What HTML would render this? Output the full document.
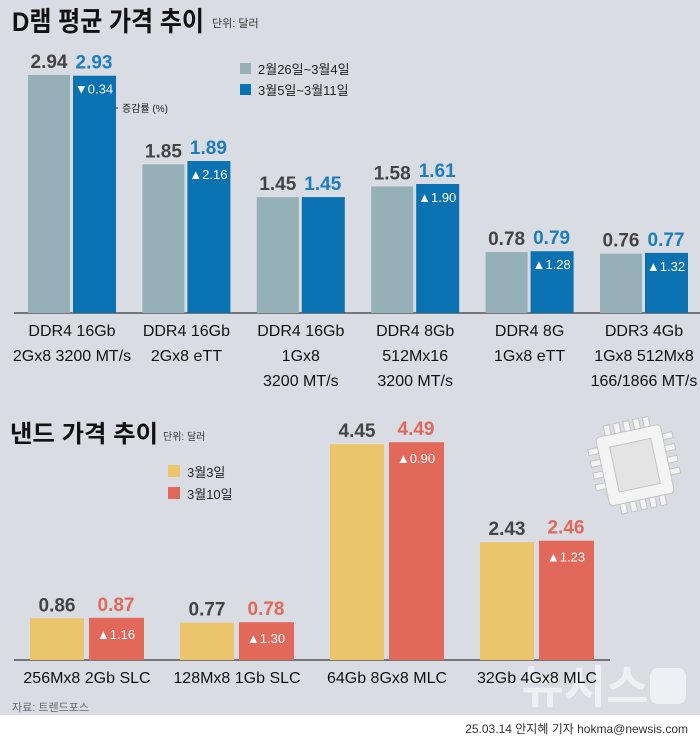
<!DOCTYPE html>
<html><head><meta charset="utf-8">
<style>
body{margin:0;width:700px;height:741px;background:#d9dce3;font-family:"Liberation Sans","Noto Sans CJK KR",sans-serif;overflow:hidden;position:relative}
svg{position:absolute;left:0;top:0}
</style></head>
<body>
<svg id="c" width="700" height="741" font-family="Liberation Sans, Noto Sans CJK KR, sans-serif">
<rect x="0" y="715" width="700" height="26" fill="#fff"/>
<text x="12" y="31" font-size="27" font-weight="bold" fill="#111" textLength="192" lengthAdjust="spacingAndGlyphs">D램 평균 가격 추이</text>
<text x="212" y="27" font-size="11" fill="#333">단위: 달러</text>
<rect x="240" y="63" width="11" height="11" fill="#95b0b6"/>
<text x="258" y="74" font-size="13" fill="#222">2월26일~3월4일</text>
<rect x="240" y="84" width="11" height="11" fill="#0a72b0"/>
<text x="258" y="95" font-size="13" fill="#222">3월5일~3월11일</text>
<path d="M100 100 V108 H118" stroke="#222" fill="none"/>
<text x="122" y="112" font-size="10" fill="#222">증감률 (%)</text>
<text x="10" y="442" font-size="24" font-weight="bold" fill="#111" textLength="148" lengthAdjust="spacingAndGlyphs">낸드 가격 추이</text>
<text x="163" y="440" font-size="10" fill="#333">단위: 달러</text>
<rect x="168" y="465" width="12" height="12" fill="#ecc46b"/>
<text x="187" y="477" font-size="13" fill="#222">3월3일</text>
<rect x="168" y="487" width="12" height="12" fill="#e2685a"/>
<text x="187" y="499" font-size="13" fill="#222">3월10일</text>
<g transform="rotate(-12 636 465)" fill="#f4f4f4" stroke="#c4c4c4">
<rect x="612" y="420" width="6" height="12"/><rect x="622" y="420" width="6" height="12"/><rect x="632" y="420" width="6" height="12"/><rect x="642" y="420" width="6" height="12"/><rect x="652" y="420" width="6" height="12"/>
<rect x="612" y="498" width="6" height="12"/><rect x="622" y="498" width="6" height="12"/><rect x="632" y="498" width="6" height="12"/><rect x="642" y="498" width="6" height="12"/><rect x="652" y="498" width="6" height="12"/>
<rect x="592" y="440" width="12" height="6"/><rect x="592" y="452" width="12" height="6"/><rect x="592" y="464" width="12" height="6"/><rect x="592" y="476" width="12" height="6"/>
<rect x="666" y="440" width="12" height="6"/><rect x="666" y="452" width="12" height="6"/><rect x="666" y="464" width="12" height="6"/><rect x="666" y="476" width="12" height="6"/>
<rect x="602" y="430" width="66" height="70" rx="4"/>
<rect x="614" y="442" width="42" height="46" fill="#e4e4e4"/>
</g>
<text x="12" y="711" font-size="11" fill="#666">자료: 트렌드포스</text>
<text x="585" y="703" font-size="46" font-weight="bold" fill="#eef0f3" text-anchor="middle">뉴시스</text>
<rect x="650" y="668" width="36" height="36" rx="8" fill="#eef0f3"/>
<text x="688" y="733" font-size="12" fill="#333" text-anchor="end">25.03.14 안지혜 기자 hokma@newsis.com</text>
</svg>
<script>
const dramCats=[["DDR4 16Gb","2Gx8 3200 MT/s"],["DDR4 16Gb","2Gx8 eTT"],["DDR4 16Gb","1Gx8","3200 MT/s"],["DDR4 8Gb","512Mx16","3200 MT/s"],["DDR4 8G","1Gx8 eTT"],["DDR3 4Gb","1Gx8 512Mx8","166/1866 MT/s"]];
const dramPrev=[2.94,1.85,1.45,1.58,0.78,0.76];
const dramCur=[2.93,1.89,1.45,1.61,0.79,0.77];
const dramChg=["▼0.34","▲2.16","","▲1.90","▲1.28","▲1.32"];
const nandCats=["256Mx8 2Gb SLC","128Mx8 1Gb SLC","64Gb 8Gx8 MLC","32Gb 4Gx8 MLC"];
const nandPrev=[0.86,0.77,4.45,2.43];
const nandCur=[0.87,0.78,4.49,2.46];
const nandChg=["▲1.16","▲1.30","▲0.90","▲1.23"];
const S=document.getElementById('c');const NS='http://www.w3.org/2000/svg';
function mk(t,a,txt){const e=document.createElementNS(NS,t);for(const k in a)e.setAttribute(k,a[k]);if(txt!==undefined)e.textContent=txt;S.appendChild(e);return e;}
// DRAM
const dB=313,dY=v=>dB-(v*82-3),dX=i=>28+114.4*i;
let ax=mk('line',{x1:14,x2:700,y1:dB,y2:dB,stroke:'#555','stroke-width':1.5});


dramPrev.forEach((v,i)=>{
 const x=dX(i);
 let r=mk('rect',{x:x,y:dY(v),width:42,height:dB-dY(v),fill:'#95b0b6'});
 
 
 let c=dramCur[i];
 let r2=mk('rect',{x:x+45,y:dY(c),width:43,height:dB-dY(c),fill:'#0a72b0'});
 
 
 let t=mk('text',{x:x+21,y:dY(v)-7,'font-size':19,'font-weight':'bold',fill:'#444','text-anchor':'middle'},v.toFixed(2));
 
 
 let t2=mk('text',{x:x+66,y:dY(c)-7,'font-size':19,'font-weight':'bold',fill:'#1a7ec0','text-anchor':'middle'},c.toFixed(2));
 
 
 if(dramChg[i]){let t3=mk('text',{x:x+66,y:dY(c)+18,'font-size':13,fill:'#fff','text-anchor':'middle'},dramChg[i]);
 
 }
 dramCats[i].forEach((l,j)=>{let tl=mk('text',{x:x+44,y:336+j*25,'font-size':16,fill:'#111','text-anchor':'middle'},l);
 
 });
});
// NAND
const nB=660,nY=v=>nB-v*48.5,nX=i=>30+150*i;
let ax2=mk('line',{x1:14,x2:610,y1:nB,y2:nB,stroke:'#555','stroke-width':1.5});


nandPrev.forEach((v,i)=>{
 const x=nX(i),c=nandCur[i];
 let r=mk('rect',{x:x,y:nY(v),width:54,height:nB-nY(v),fill:'#ecc46b'});
 
 
 let r2=mk('rect',{x:x+59,y:nY(c),width:55,height:nB-nY(c),fill:'#e2685a'});
 
 
 let t=mk('text',{x:x+27,y:nY(v)-7,'font-size':19,'font-weight':'bold',fill:'#444','text-anchor':'middle'},v.toFixed(2));
 
 
 let t2=mk('text',{x:x+86,y:nY(c)-7,'font-size':19,'font-weight':'bold',fill:'#e2685a','text-anchor':'middle'},c.toFixed(2));
 
 
 let t3=mk('text',{x:x+86,y:nY(c)+21,'font-size':13,fill:'#fff','text-anchor':'middle'},nandChg[i]);
 
 
 let tl=mk('text',{x:x+57,y:683,'font-size':16,fill:'#111','text-anchor':'middle'},nandCats[i]);
 
 
});
</script>
</body></html>
